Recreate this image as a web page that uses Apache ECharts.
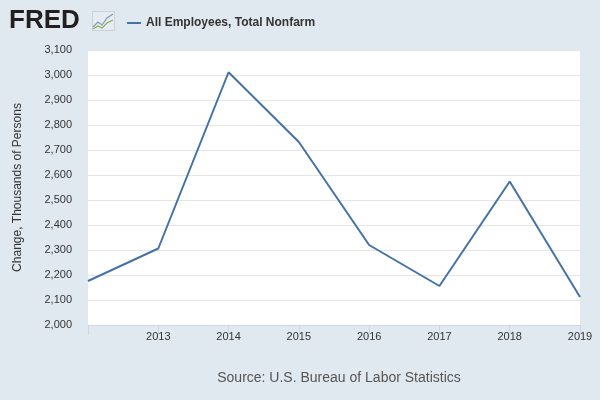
<!DOCTYPE html>
<html><head><meta charset="utf-8">
<script src="https://cdn.jsdelivr.net/npm/echarts@6/dist/echarts.min.js"></script>
<style>html,body{margin:0;padding:0;background:#e1e9f0}#c{width:600px;height:400px}</style>
</head><body><div id="c"></div>
<script>
const years = [2012, 2013, 2014, 2015, 2016, 2017, 2018, 2019];
const values = [2176, 2306, 3011, 2732, 2320, 2156, 2574, 2112];
const seriesName = 'All Employees, Total Nonfarm';
const chart = echarts.init(document.getElementById('c'));
chart.setOption({
  backgroundColor: '#e1e9f0',
  animation: false,
  textStyle: {fontFamily: 'Liberation Sans, Arial, sans-serif'},
  graphic: [
    {type: 'text', left: 9, top: 8, style: {text: 'FRED', font: 'bold 26px Liberation Sans, Arial', fill: '#231f20'}},
    {type: 'rect', left: 92, top: 11, shape: {width: 22, height: 19}, style: {fill: '#e6ecf1', stroke: '#c9d3dc'}},
    {type: 'polyline', shape: {points: [[93,27],[98,22],[102,25],[107,18],[113,14]]}, style: {stroke: '#7f9bbd', lineWidth: 1.2, fill: null}},
    {type: 'polyline', shape: {points: [[93,29],[98,26],[102,28],[107,23],[113,20]]}, style: {stroke: '#8fb04a', lineWidth: 1.2, fill: null}}
  ],
  legend: {left: 122, top: 12, itemWidth: 14, itemHeight: 2, icon: 'rect',
    textStyle: {fontSize: 12, fontWeight: 'bold', color: '#333'}, data: [seriesName]},
  grid: {left: 88, right: 20, top: 50, bottom: 75, show: true, backgroundColor: '#ffffff', borderWidth: 0},
  xAxis: {type: 'value', min: 2012, max: 2019, interval: 1,
    axisLine: {lineStyle: {color: '#ccd6eb'}},
    axisTick: {show: true, length: 10, lineStyle: {color: '#ccd6eb'}},
    splitLine: {show: false},
    axisLabel: {color: '#333', fontSize: 11, margin: 6,
      formatter: v => v === 2012 ? '' : String(v)}},
  yAxis: {type: 'value', min: 2000, max: 3100, interval: 100,
    name: 'Change, Thousands of Persons', nameLocation: 'middle', nameGap: 64,
    nameTextStyle: {color: '#333', fontSize: 12},
    axisLine: {show: false}, axisTick: {show: false},
    splitLine: {lineStyle: {color: '#e6e6e6'}},
    axisLabel: {color: '#333', fontSize: 11, margin: 16,
      formatter: v => v.toLocaleString('en-US')}},
  series: [{name: seriesName, type: 'line', data: years.map((y,i)=>[y, values[i]]),
    showSymbol: false, lineStyle: {color: '#4572a7', width: 2}, itemStyle: {color: '#4572a7'}}],
  title: {text: 'Source: U.S. Bureau of Labor Statistics', left: 334, textAlign: 'center', top: 366,
    textStyle: {fontSize: 14, fontWeight: 'normal', color: '#555'}}
});
</script></body></html>
